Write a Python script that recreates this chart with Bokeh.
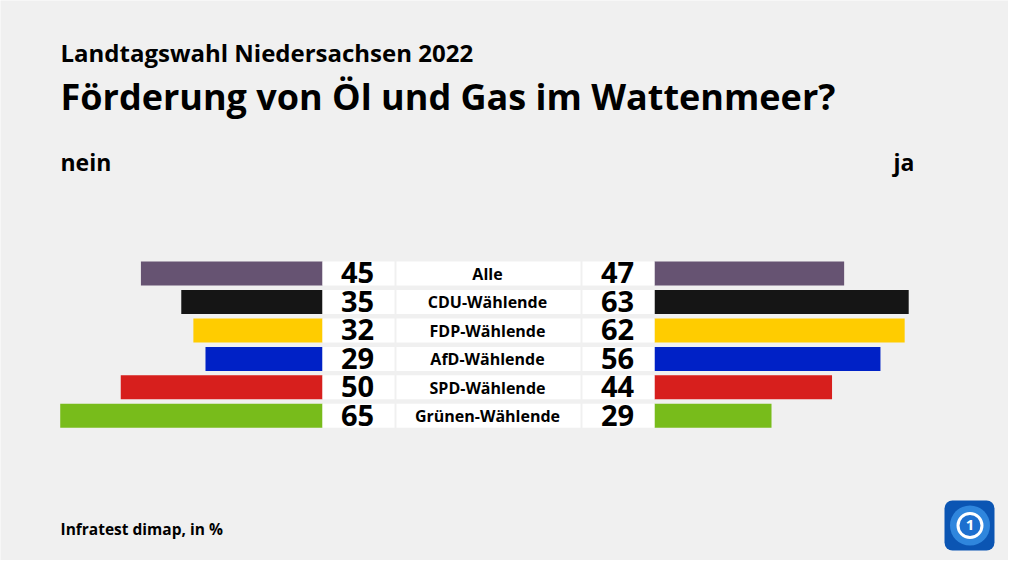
from bokeh.plotting import figure
from bokeh.models import Range1d, Label, BoxAnnotation
from bokeh.embed import file_html
from bokeh.resources import INLINE
from bokeh.core.properties import value

# ---- data ----
categories = ["Alle", "CDU-Wählende", "FDP-Wählende", "AfD-Wählende", "SPD-Wählende", "Grünen-Wählende"]
nein = [45, 35, 32, 29, 50, 65]
ja = [47, 63, 62, 56, 44, 29]
colors = ["#665372", "#151515", "#ffcc00", "#0021c6", "#d71f1d", "#78bc1b"]
title_small = "Landtagswahl Niedersachsen 2022"
title_big = "Förderung von Öl und Gas im Wattenmeer?"
left_label = "nein"
right_label = "ja"
source_note = "Infratest dimap, in %"

# ---- layout constants (pixels) ----
W, H = 1008, 560
PXU = 4.035       # pixels per percent point
ROW = 28.46       # row pitch
X0 = 322          # left bar base
Y0 = 273          # first row centre
BAR_H = 24 / ROW
FONT = "Open Sans"
BG = "#f0f0f0"
K = 0.38          # baseline correction (fraction of font size)


def dx(px):
    return (px - X0) / PXU


def dy(py):
    return (py - Y0) / ROW


def base(py, size):
    return dy(py - K * size)


RB = dx(654)  # right bar base

p = figure(width=W, height=H, output_backend="svg", toolbar_location=None,
           x_range=Range1d(dx(0), dx(W)),
           y_range=Range1d(dy(H), dy(0)),
           x_axis_location=None, y_axis_location=None,
           min_border=0, background_fill_color=BG, border_fill_color=BG,
           outline_line_color=None)
p.grid.visible = False

idx = list(range(len(categories)))

# bars
p.hbar(y=idx, left=[-v for v in nein], right=0, height=BAR_H, fill_color=colors, line_color=None)
p.hbar(y=idx, left=RB, right=[RB + v for v in ja], height=BAR_H, fill_color=colors, line_color=None)

# white boxes
for a, b in [(322, 394), (396, 580), (582, 654)]:
    p.hbar(y=idx, left=dx(a), right=dx(b), height=BAR_H, fill_color="white", line_color=None)

# numbers and labels
NUM = 29
LAB = 16
p.text(x=dx(357), y=[i + base(283.3, NUM) - dy(273) for i in idx], text=[str(v) for v in nein],
       text_font=value(FONT), text_font_style="bold", text_font_size=f"{NUM}px",
       text_align="center", text_baseline="alphabetic", text_color="#000000")
p.text(x=dx(617), y=[i + base(283.3, NUM) - dy(273) for i in idx], text=[str(v) for v in ja],
       text_font=value(FONT), text_font_style="bold", text_font_size=f"{NUM}px",
       text_align="center", text_baseline="alphabetic", text_color="#000000")
p.text(x=dx(487), y=[i + base(279.3, LAB) - dy(273) for i in idx], text=categories,
       text_font=value(FONT), text_font_style="bold", text_font_size=f"{LAB}px",
       text_align="center", text_baseline="alphabetic", text_color="#000000")


# titles & notes
def add_label(txt, x, y, size, align="left"):
    p.add_layout(Label(x=dx(x), y=base(y, size), text=txt, text_font=FONT, text_font_style="bold",
                       text_font_size=f"{size}px", text_align=align, text_baseline="alphabetic",
                       text_color="#000000"))


add_label(title_small, 60, 60.7, 24)
add_label(title_big, 60, 110, 36)
add_label(left_label, 60, 170.5, 23)
add_label(right_label, 914, 170.5, 23, align="right")
add_label(source_note, 60, 534.3, 15.5)

# logo
p.add_layout(BoxAnnotation(left=dx(944), right=dx(994), top=dy(500), bottom=dy(550),
                           fill_color="#0b55b3", fill_alpha=1, line_color=None, border_radius=8,
                           level="underlay"))
p.scatter(x=[dx(969.5)], y=[dy(525)], size=40, fill_color="#2f86dd", line_color=None)
p.scatter(x=[dx(969.5)], y=[dy(525)], size=24, fill_color="#1d6fcf", line_color="white", line_width=3)
p.text(x=[dx(969.5)], y=[base(530.5, 15)], text=["1"], text_font=value(FONT), text_font_style="bold",
       text_font_size="15px", text_align="center", text_baseline="alphabetic", text_color="white")

open("out.html", "w").write(file_html(p, INLINE))
